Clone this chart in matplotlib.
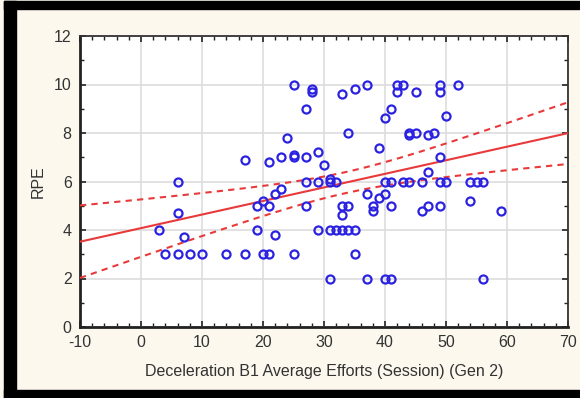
import matplotlib
matplotlib.use("Agg")
import matplotlib.pyplot as plt
from matplotlib.patches import Rectangle
from matplotlib.ticker import MultipleLocator
import numpy as np

plt.rcParams['font.family'] = ['Liberation Sans', 'DejaVu Sans']
plt.rcParams['axes.unicode_minus'] = False

# Deceleration B1 average efforts (x) vs RPE (y)
effort = [25, 37, 42, 43, 49, 52,
          28, 28, 33, 35, 42, 45, 49,
          27, 41, 40, 50,
          34, 44, 44, 45, 47, 48,
          24, 39,
          17, 21, 23, 25, 25, 27, 29, 30, 49,
          47,
          6, 27, 29, 31, 31, 32, 40, 41, 43, 44, 46, 49, 50, 54, 55, 56,
          22, 23, 20, 37, 40, 39,
          19, 21, 27, 33, 34, 38, 38, 41, 46, 47, 49, 54, 59,
          6, 33,
          3, 19, 29, 31, 32, 33, 34, 35,
          22, 7,
          4, 6, 8, 10, 14, 17, 20, 21, 25, 35,
          31, 37, 40, 41, 56]
rpe = [10, 10, 10, 10, 10, 10,
       9.8, 9.7, 9.6, 9.8, 9.7, 9.7, 9.7,
       9.0, 9.0, 8.6, 8.7,
       8.0, 8.0, 7.9, 8.0, 7.9, 8.0,
       7.8, 7.4,
       6.9, 6.8, 7.0, 7.1, 7.0, 7.0, 7.2, 6.7, 7.0,
       6.4,
       6, 6, 6, 6.1, 6, 6, 6, 6, 6, 6, 6, 6, 6, 6, 6, 6,
       5.5, 5.7, 5.2, 5.5, 5.5, 5.3,
       5, 5, 5, 5, 5, 5, 4.8, 5, 4.8, 5, 5, 5.2, 4.8,
       4.7, 4.6,
       4, 4, 4, 4, 4, 4, 4, 4,
       3.8, 3.7,
       3, 3, 3, 3, 3, 3, 3, 3, 3, 3,
       2, 2, 2, 2, 2]

x = np.array(effort, dtype=float)
y = np.array(rpe, dtype=float)

# linear fit + 95% confidence band
slope, icept = np.polyfit(x, y, 1)
n = len(x)
resid = y - (icept + slope * x)
s = np.sqrt(np.sum(resid ** 2) / (n - 2))
sxx = np.sum((x - x.mean()) ** 2)
xs = np.linspace(-10, 70, 200)
yfit = icept + slope * xs
half = 1.984 * s * np.sqrt(1.0 / n + (xs - x.mean()) ** 2 / sxx)

W, H = 580, 398
fig = plt.figure(figsize=(W / 100, H / 100), dpi=100)
fig.patch.set_facecolor('#fcf8ee')

# black frame (left, top, bottom)
def px_rect(x0, y0, x1, y1):
    fig.add_artist(Rectangle((x0 / W, 1 - y1 / H), (x1 - x0) / W, (y1 - y0) / H,
                             transform=fig.transFigure, color='black', zorder=0))

px_rect(4, 1, 580, 9)
px_rect(4, 1, 16, 398)
px_rect(4, 390, 580, 398)

ax = fig.add_axes([80 / W, 1 - 327 / H, 488 / W, 291 / H])
ax.set_facecolor('white')

ax.plot(xs, yfit, color='#e83a3a', lw=1.5, zorder=3)
ax.plot(xs, yfit + half, color='#e83a3a', lw=1.5, ls=(0, (3, 2.5)), zorder=3)
ax.plot(xs, yfit - half, color='#e83a3a', lw=1.5, ls=(0, (3, 2.5)), zorder=3)
ax.plot(x, y, 'o', mfc='none', mec='#2a22e0', ms=5.8, mew=1.6, zorder=4)

ax.set_xlim(-10, 70)
ax.set_ylim(0, 12)
ax.xaxis.set_major_locator(MultipleLocator(10))
ax.xaxis.set_minor_locator(MultipleLocator(2))
ax.yaxis.set_major_locator(MultipleLocator(2))
ax.yaxis.set_minor_locator(MultipleLocator(1))
ax.grid(True, which='major', color='#dddddd', lw=1.2, zorder=0)
ax.set_axisbelow(True)

ax.tick_params(which='both', direction='in', top=True, right=True,
               labelsize=11.5, labelcolor='#333333', color='#222222')
ax.tick_params(which='major', length=4, width=1.2, pad=6)
ax.tick_params(which='minor', length=3, width=1)

for side in ['left', 'bottom']:
    ax.spines[side].set_linewidth(2)
    ax.spines[side].set_color('#222222')
for side in ['top', 'right']:
    ax.spines[side].set_linewidth(1.3)
    ax.spines[side].set_color('#333333')

ax.set_xlabel('Deceleration B1 Average Efforts (Session) (Gen 2)', fontsize=11.5,
              color='#333333', labelpad=10)
ax.set_ylabel('RPE', fontsize=11.5, color='#333333', labelpad=6)

fig.savefig('out.png', dpi=100, facecolor=fig.get_facecolor())
